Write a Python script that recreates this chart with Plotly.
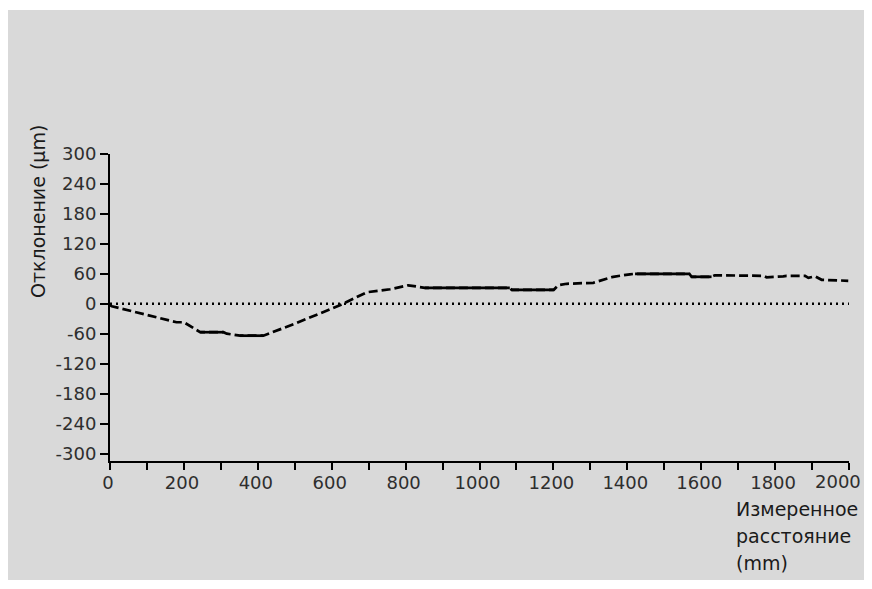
import plotly.graph_objects as go

# Data
x_dist = [0, 5, 180, 200, 244, 307, 316, 352, 415, 500, 622, 695, 758, 807, 852,
          1082, 1087, 1201, 1213, 1236, 1308, 1362, 1407, 1421, 1568, 1574, 1628,
          1637, 1768, 1777, 1822, 1831, 1881, 1890, 1908, 1926, 1998]
y_dev = [-3, -5, -37, -37, -57, -57, -60, -64, -64, -40, -3, 23, 29, 37, 32,
         32, 28, 28, 37, 40, 42, 54, 59, 60, 60, 54, 54,
         57, 56, 53, 55, 56, 56, 52, 55, 48, 46]
solid_ranges = [(244, 307), (352, 415), (852, 1082), (1087, 1201), (1421, 1568), (1574, 1628)]

y_ticks = [-300, -240, -180, -120, -60, 0, 60, 120, 180, 240, 300]
y_ticktext = [str(v) for v in y_ticks]
x_ticks = list(range(0, 2001, 100))
x_ticktext = [str(v) if v % 200 == 0 else "" for v in x_ticks]

y_title = "Отклонение (µm)"
x_title_lines = ["Измеренное", "расстояние", "(mm)"]

# layout geometry (pixels); the page body adds an 8px offset
OFF = 8
W, H = 856, 572
L, R, T, B = 102, 15, 146, 119
pw, ph = W - L - R, H - T - B


def px(xpage):
    return (xpage - OFF - L) / pw


def py(ypage):
    return (H - B - (ypage - OFF)) / ph


fig = go.Figure()

# zero reference line
fig.add_trace(go.Scatter(x=[0, 2000], y=[0, 0], mode="lines",
                         line=dict(color="black", width=2.3, dash="2px,4px"),
                         hoverinfo="skip", showlegend=False))

# main dashed profile
fig.add_trace(go.Scatter(x=x_dist, y=y_dev, mode="lines",
                         line=dict(color="black", width=2.7, dash="9px,4px"),
                         showlegend=False))

# solid flat portions
for a, b in solid_ranges:
    xs = [x for x in x_dist if a <= x <= b]
    ys = [y for x, y in zip(x_dist, y_dev) if a <= x <= b]
    fig.add_trace(go.Scatter(x=xs, y=ys, mode="lines",
                             line=dict(color="black", width=2.7),
                             hoverinfo="skip", showlegend=False))

tick_font = dict(family="DejaVu Sans, sans-serif", size=18, color="#2e2e2e")

# last x label is pulled inside the page edge (as in the reference)
axis_ticktext = x_ticktext[:-1] + [""]

fig.update_layout(
    width=W, height=H,
    margin=dict(l=L, r=R, t=T, b=B, autoexpand=False),
    paper_bgcolor="white",
    plot_bgcolor="rgba(0,0,0,0)",
    xaxis=dict(range=[0, 2000], tickvals=x_ticks, ticktext=axis_ticktext,
               showline=True, linecolor="black", linewidth=2, automargin=False,
               ticks="outside", ticklen=7, tickwidth=2, tickcolor="black",
               ticklabelstandoff=-3, ticklabelshift=-2,
               showgrid=False, zeroline=False, tickfont=tick_font),
    yaxis=dict(range=[-315, 300], tickvals=y_ticks, ticktext=y_ticktext,
               showline=True, linecolor="black", linewidth=2, automargin=False,
               ticks="outside", ticklen=8, tickwidth=2, tickcolor="black",
               showgrid=False, zeroline=False, tickfont=tick_font),
    shapes=[dict(type="rect", xref="paper", yref="paper",
                 x0=px(8), x1=px(880), y0=py(580), y1=py(10),
                 fillcolor="#d9d9d9", line=dict(width=0), layer="below")],
)

fig.add_annotation(x=px(863), y=py(481), xref="paper", yref="paper",
                   xanchor="right", yanchor="middle",
                   text=x_ticktext[-1], showarrow=False, font=tick_font)

fig.add_annotation(x=px(38), y=py(212), xref="paper", yref="paper",
                   xanchor="center", yanchor="middle",
                   text=y_title, textangle=-90, showarrow=False,
                   font=dict(family="DejaVu Sans, sans-serif", size=19, color="#1a1a1a"))

for i, line in enumerate(x_title_lines):
    fig.add_annotation(x=px(734), y=py(509 + 27 * i), xref="paper", yref="paper",
                       text=line, showarrow=False, xanchor="left", yanchor="middle",
                       font=dict(family="DejaVu Sans, sans-serif", size=19, color="#1a1a1a"))

fig.write_html("out.html")
